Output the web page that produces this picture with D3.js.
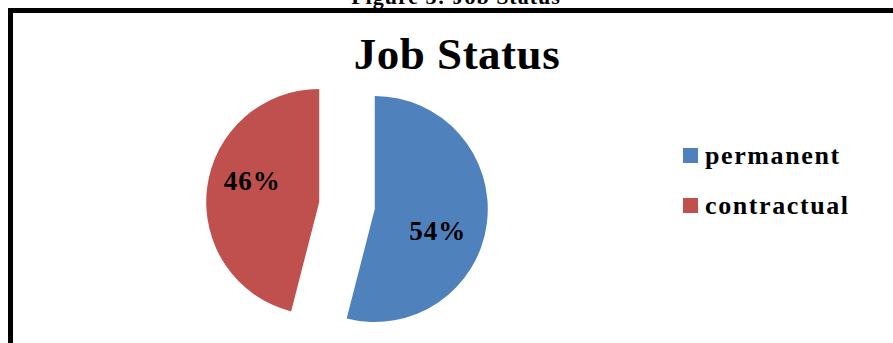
<!DOCTYPE html>
<html>
<head>
<meta charset="utf-8">
<script src="https://cdn.jsdelivr.net/npm/d3@7"></script>
<style>
  body { margin: 0; background: #fff; }
  text { font-family: "Liberation Serif", "Times New Roman", serif; font-weight: bold; }
</style>
</head>
<body>
<svg id="chart" width="893" height="343"></svg>
<script>
// data
var categories = ["permanent", "contractual"];
var values = [54, 46];
var colors = ["#4F81BD", "#C0504D"];

var svg = d3.select("#chart");
var width = 893, height = 343;

var cx = 347, cy = 205.5, radius = 113, explode = 28;

function drawFrame(){
    svg.append("text")
        .attr("x", 456)
        .attr("y", 4)
        .attr("text-anchor", "middle")
        .attr("font-size", "22px")
        .attr("letter-spacing", "1px")
        .text("Figure 3: Job Status");

    svg.append("rect")
        .attr("x", 10.5)
        .attr("y", 10.5)
        .attr("width", 1000)
        .attr("height", 600)
        .style("fill", "none")
        .style("stroke", "#000")
        .style("stroke-width", 5);
}

function drawTitle(){
    svg.append("text")
        .attr("x", 457)
        .attr("y", 69)
        .attr("text-anchor", "middle")
        .attr("font-size", "45px")
        .attr("letter-spacing", "0.5px")
        .text("Job Status");
}

function drawPie(){
    var pie = d3.pie().sort(null).value(d => d.value);
    var arc = d3.arc().innerRadius(0).outerRadius(radius);
    var data = categories.map((c, i) => ({name: c, value: values[i], color: colors[i]}));
    var arcs = pie(data);

    var g = svg.append("g").attr("transform", "translate(" + cx + "," + cy + ")");

    var slices = g.selectAll("g.slice")
        .data(arcs)
        .enter()
        .append("g")
        .attr("class", "slice")
        .attr("transform", d => {
            var mid = (d.startAngle + d.endAngle) / 2;
            return "translate(" + (Math.sin(mid) * explode) + "," + (-Math.cos(mid) * explode) + ")";
        });

    slices.append("path")
        .attr("d", arc)
        .style("fill", d => d.data.color);

    var labelArc = d3.arc().innerRadius(radius * 0.75).outerRadius(radius * 0.75);
    slices.append("text")
        .attr("x", d => d.data.name == "permanent" ? 63 : -67)
        .attr("y", d => d.data.name == "permanent" ? 31 : -12)
        .attr("text-anchor", "middle")
        .attr("font-size", "27px")
        .attr("letter-spacing", "1px")
        .text(d => d.data.value + "%");
}

function drawLegend(){
    var legend = svg.selectAll("g.legend")
        .data(categories)
        .enter()
        .append("g")
        .attr("class", "legend")
        .attr("transform", (d, i) => "translate(683," + (148 + i * 50) + ")");

    legend.append("rect")
        .attr("width", 15)
        .attr("height", 15)
        .style("fill", (d, i) => colors[i]);

    legend.append("text")
        .attr("x", 22)
        .attr("y", 16)
        .attr("font-size", "26px")
        .attr("letter-spacing", "1.6px")
        .text(d => d);
}

drawFrame();
drawTitle();
drawPie();
drawLegend();
</script>
</body>
</html>
